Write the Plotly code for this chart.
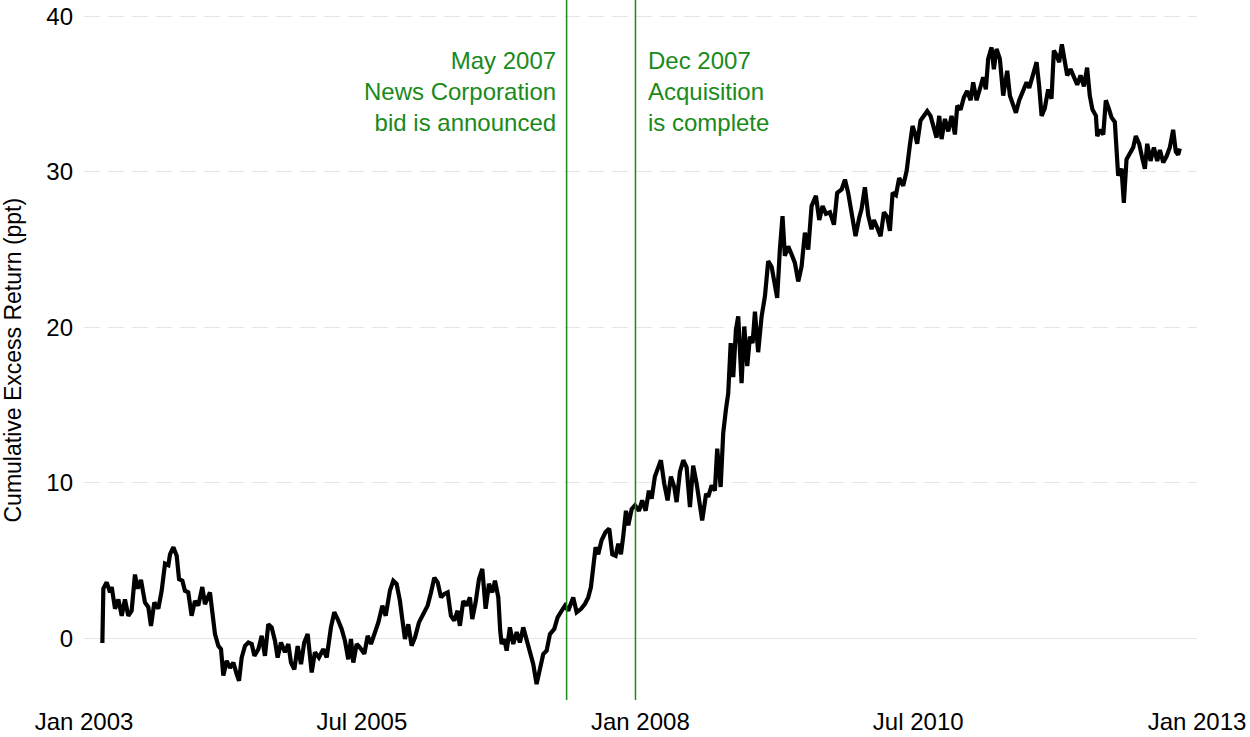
import pandas as pd
import plotly.graph_objects as go

# Time (decimal years) and cumulative excess return (ppt)
years = [
    2003.165, 2003.174, 2003.204, 2003.234, 2003.249, 2003.279, 2003.309, 2003.339, 2003.368, 2003.398,
    2003.428, 2003.458, 2003.482, 2003.512, 2003.548, 2003.578, 2003.602, 2003.632, 2003.668, 2003.698,
    2003.728, 2003.758, 2003.773, 2003.803, 2003.833, 2003.854, 2003.884, 2003.907, 2003.937, 2003.967,
    2003.997, 2004.027, 2004.063, 2004.087, 2004.132, 2004.153, 2004.177, 2004.207, 2004.231, 2004.252,
    2004.282, 2004.312, 2004.342, 2004.372, 2004.393, 2004.417, 2004.447, 2004.477, 2004.507, 2004.531,
    2004.567, 2004.597, 2004.626, 2004.656, 2004.686, 2004.716, 2004.740, 2004.770, 2004.806, 2004.836,
    2004.860, 2004.890, 2004.920, 2004.950, 2004.979, 2005.010, 2005.046, 2005.075, 2005.111, 2005.150,
    2005.181, 2005.219, 2005.249, 2005.279, 2005.315, 2005.345, 2005.375, 2005.399, 2005.420, 2005.450,
    2005.480, 2005.519, 2005.549, 2005.579, 2005.615, 2005.645, 2005.681, 2005.711, 2005.749, 2005.779,
    2005.809, 2005.839, 2005.860, 2005.884, 2005.914, 2005.944, 2005.974, 2006.010, 2006.049, 2006.088,
    2006.118, 2006.148, 2006.178, 2006.208, 2006.238, 2006.268, 2006.297, 2006.327, 2006.357, 2006.378,
    2006.408, 2006.438, 2006.468, 2006.489, 2006.519, 2006.549, 2006.579, 2006.609, 2006.639, 2006.669,
    2006.693, 2006.723, 2006.740, 2006.753, 2006.777, 2006.798, 2006.827, 2006.857, 2006.888, 2006.917,
    2006.947, 2006.978, 2007.007, 2007.037, 2007.067, 2007.097, 2007.127, 2007.157, 2007.187, 2007.226,
    2007.256, 2007.292, 2007.322, 2007.351, 2007.396, 2007.427, 2007.465, 2007.501, 2007.531, 2007.555,
    2007.576, 2007.597, 2007.621, 2007.651, 2007.687, 2007.720, 2007.747, 2007.777, 2007.801, 2007.825,
    2007.846, 2007.870, 2007.891, 2007.921, 2007.951, 2007.987, 2008.016, 2008.047, 2008.076, 2008.101,
    2008.130, 2008.160, 2008.184, 2008.214, 2008.244, 2008.274, 2008.304, 2008.325, 2008.355, 2008.385,
    2008.415, 2008.445, 2008.474, 2008.505, 2008.526, 2008.555, 2008.573, 2008.590, 2008.609, 2008.640,
    2008.669, 2008.690, 2008.721, 2008.744, 2008.768, 2008.789, 2008.811, 2008.834, 2008.858, 2008.879,
    2008.909, 2008.933, 2008.960, 2008.984, 2009.008, 2009.029, 2009.058, 2009.089, 2009.119, 2009.148,
    2009.179, 2009.208, 2009.229, 2009.253, 2009.277, 2009.298, 2009.328, 2009.358, 2009.388, 2009.418,
    2009.448, 2009.478, 2009.508, 2009.538, 2009.577, 2009.607, 2009.637, 2009.667, 2009.703, 2009.739,
    2009.768, 2009.808, 2009.838, 2009.867, 2009.898, 2009.933, 2009.966, 2009.987, 2010.017, 2010.047,
    2010.077, 2010.098, 2010.128, 2010.158, 2010.188, 2010.218, 2010.242, 2010.266, 2010.296, 2010.325,
    2010.361, 2010.392, 2010.421, 2010.445, 2010.466, 2010.487, 2010.517, 2010.547, 2010.577, 2010.607,
    2010.637, 2010.661, 2010.685, 2010.706, 2010.736, 2010.766, 2010.796, 2010.826, 2010.847, 2010.877,
    2010.907, 2010.936, 2010.967, 2010.990, 2011.021, 2011.050, 2011.080, 2011.104, 2011.125, 2011.155,
    2011.176, 2011.200, 2011.230, 2011.260, 2011.296, 2011.320, 2011.350, 2011.374, 2011.404, 2011.440,
    2011.470, 2011.494, 2011.524, 2011.560, 2011.583, 2011.605, 2011.634, 2011.664, 2011.694, 2011.715,
    2011.739, 2011.763, 2011.787, 2011.814, 2011.835, 2011.865, 2011.895, 2011.925, 2011.955, 2011.985,
    2012.014, 2012.038, 2012.062, 2012.093, 2012.105, 2012.129, 2012.159, 2012.182, 2012.212, 2012.233,
    2012.263, 2012.293, 2012.323, 2012.344, 2012.368, 2012.398, 2012.428, 2012.452, 2012.482, 2012.512,
    2012.533, 2012.554, 2012.584, 2012.614, 2012.644, 2012.668, 2012.698, 2012.728, 2012.757, 2012.787,
    2012.811, 2012.832, 2012.847,
]

excess_return = [
    -0.3, 3.2, 3.6, 2.95, 3.3, 1.9, 2.5, 1.45, 2.5, 1.45,
    1.77, 4.1, 3.2, 3.75, 2.3, 2.0, 0.8, 2.3, 1.9, 3.06,
    4.8, 4.7, 5.4, 5.86, 5.3, 3.8, 3.7, 3.06, 2.95, 1.45,
    2.4, 2.1, 3.3, 2.2, 2.95, 1.77, 0.27, -0.48, -0.7, -2.4,
    -1.45, -1.9, -1.56, -2.3, -2.74, -1.24, -0.48, -0.27, -0.37, -1.13,
    -0.7, 0.16, -1.13, 0.9, 0.7, -0.16, -1.24, -0.27, -0.9, -0.37,
    -1.56, -2.0, -0.5, -1.67, -0.27, 0.27, -2.2, -0.9, -1.24, -0.7,
    -1.24, 0.7, 1.67, 1.24, 0.6, -0.16, -1.35, -0.05, -1.56, -0.37,
    -0.6, -1.0, 0.16, -0.37, 0.38, 1.02, 2.1, 1.45, 3.06, 3.7,
    3.5, 2.4, 1.24, -0.05, 0.9, -0.48, 0.05, 1.02, 1.56, 2.1,
    2.95, 3.9, 3.6, 2.63, 2.85, 2.95, 1.45, 1.13, 1.77, 0.8,
    2.4, 2.1, 2.63, 1.24, 2.3, 3.8, 4.46, 1.9, 3.5, 2.95,
    3.7, 2.63, 0.48, -0.37, -0.05, -0.8, 0.7, -0.37, 0.4, -0.27,
    0.7, -0.16, -1.02, -1.67, -2.95, -1.88, -1.02, -0.8, 0.27, 0.6,
    1.34, 1.77, 2.1, 1.77, 2.63, 1.67, 1.88, 2.2, 2.63, 3.28,
    4.8, 5.86, 5.4, 6.3, 6.83, 7.05, 5.4, 5.3, 6.08, 5.4,
    6.6, 8.2, 7.26, 8.3, 8.55, 8.2, 8.87, 8.2, 9.5, 8.98,
    10.4, 11.0, 11.45, 9.95, 8.87, 10.4, 9.73, 8.76, 10.7, 11.45,
    11.0, 8.44, 11.1, 9.95, 8.98, 7.58, 8.44, 9.3, 9.1, 9.84,
    9.5, 12.2, 9.73, 13.2, 14.7, 15.75, 18.98, 16.8, 19.84, 20.7,
    16.4, 20.05, 17.5, 19.4, 18.98, 21.0, 18.4, 20.7, 22.0, 24.25,
    23.9, 22.75, 21.9, 25.0, 27.15, 24.6, 25.2, 24.7, 24.14, 22.95,
    23.9, 26.08, 25.0, 27.8, 28.45, 26.9, 27.8, 27.3, 27.4, 26.6,
    28.65, 28.87, 29.5, 28.65, 27.3, 25.86, 27.05, 27.6, 29.0, 27.2,
    26.3, 26.9, 26.4, 25.86, 27.4, 27.1, 26.2, 28.65, 28.5, 29.6,
    29.1, 30.05, 31.7, 32.95, 32.5, 31.8, 33.3, 33.6, 33.9, 33.6,
    32.7, 32.2, 33.6, 32.1, 33.4, 32.6, 33.6, 32.4, 34.25, 34.0,
    34.8, 35.2, 34.6, 35.75, 34.6, 35.4, 36.08, 35.3, 37.26, 38.0,
    36.6, 37.9, 37.26, 34.9, 36.5, 34.9, 34.35, 33.8, 34.6, 35.3,
    35.75, 35.4, 36.08, 37.05, 35.5, 33.6, 34.1, 35.3, 34.7, 37.8,
    37.5, 37.05, 38.2, 37.05, 36.2, 36.6, 36.08, 35.6, 36.2, 35.5,
    36.7, 34.9, 34.0, 33.6, 32.3, 32.7, 32.4, 34.6, 34.0, 33.5,
    33.2, 29.75, 30.2, 28.0, 30.8, 31.2, 31.56, 32.3, 31.8, 30.8,
    30.2, 31.8, 30.7, 31.56, 30.7, 31.4, 30.6, 31.0, 31.56, 32.7,
    31.3, 31.1, 31.5,
]

event_dates = ["2007-05-04", "2007-12-16"]
event_labels = [
    "May 2007<br>News Corporation<br>bid is announced",
    "Dec 2007<br>Acquisition<br>is complete",
]

tick_dates = ["2003-01-01", "2005-07-01", "2008-01-01", "2010-07-01", "2013-01-01"]
tick_labels = ["Jan 2003", "Jul 2005", "Jan 2008", "Jul 2010", "Jan 2013"]
y_ticks = [0, 10, 20, 30, 40]
y_title = "Cumulative Excess Return (ppt)"

FONT = "Helvetica Neue, Liberation Sans, Arial, sans-serif"
GREEN = "#1a8a1a"

base = pd.Timestamp("2003-01-01")
dates = [base + pd.to_timedelta((y - 2003) * 365.25, unit="D") for y in years]

fig = go.Figure()
fig.add_trace(go.Scatter(
    x=dates, y=excess_return, mode="lines",
    line=dict(color="black", width=4.2),
    hoverinfo="skip", showlegend=False,
))

for d in event_dates:
    fig.add_shape(type="line", x0=d, x1=d, y0=0, y1=1, xref="x", yref="paper",
                  line=dict(color=GREEN, width=1.5), layer="above")

fig.add_annotation(x=event_dates[0], y=0.870, xref="x", yref="paper",
                   text=event_labels[0], showarrow=False, xanchor="right",
                   yanchor="middle", align="right", xshift=-9,
                   font=dict(family=FONT, size=24, color=GREEN))
fig.add_annotation(x=event_dates[1], y=0.870, xref="x", yref="paper",
                   text=event_labels[1], showarrow=False, xanchor="left",
                   yanchor="middle", align="left", xshift=11,
                   font=dict(family=FONT, size=24, color=GREEN))

# Y-axis title placed as rotated text left of the tick labels
fig.add_annotation(x=0, y=0.485, xref="paper", yref="paper", text=y_title,
                   showarrow=False, textangle=-90, xanchor="center", yanchor="middle",
                   xshift=-72, font=dict(family=FONT, size=23, color="black"))

fig.update_layout(
    width=1250, height=737,
    margin=dict(l=84, r=53, t=0, b=37),
    plot_bgcolor="white", paper_bgcolor="white",
    font=dict(family=FONT, size=24, color="black"),
    showlegend=False,
    xaxis=dict(
        type="date", range=["2003-01-01", "2013-01-01"],
        tickvals=tick_dates, ticktext=tick_labels,
        showgrid=False, zeroline=False, showline=False, ticks="",
        tickfont=dict(size=24), ticklabelstandoff=5,
    ),
    yaxis=dict(
        range=[-3.97, 41.05], tickvals=y_ticks,
        showgrid=True, gridcolor="#e6e6e6", gridwidth=1, griddash="16px,8px",
        zeroline=True, zerolinecolor="#e6e6e6", zerolinewidth=1,
        showline=False, ticks="", tickfont=dict(size=24), ticklabelstandoff=10,
    ),
)

fig.write_html("out.html")
